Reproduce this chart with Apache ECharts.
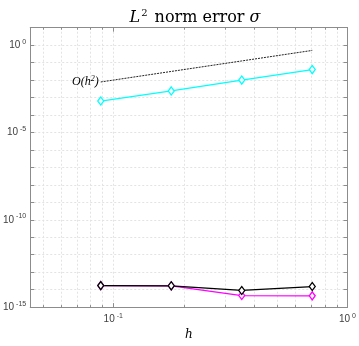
<!DOCTYPE html>
<html>
<head>
<meta charset="utf-8">
<script src="https://cdn.jsdelivr.net/npm/echarts@6/dist/echarts.min.js"></script>
<style>
  html, body { margin: 0; padding: 0; background: #fff; }
  #chart { width: 359px; height: 346px; }
</style>
</head>
<body>
<div id="chart"></div>
<script>
// mesh sizes h
const hValues = [0.0884, 0.1768, 0.3536, 0.7071];
// L2 error of sigma, three runs
const cyanErr = [6.3e-4, 2.4e-3, 1.0e-2, 4.0e-2];
const magentaErr = [1.7e-14, 1.65e-14, 4.6e-15, 4.4e-15];
const blackErr = [1.7e-14, 1.65e-14, 9.0e-15, 1.5e-14];
// reference slope line O(h^2)
const refLine = [0.0078, 0.03125, 0.125, 0.5];
// decades that get a label on the y axis
const yLabelStep = 5;

const axisGray = '#8c8c8c';
const gridGray = '#e3e3e3';
const labelGray = '#404040';

function pairs(xs, ys) {
    return xs.map((x, i) => [x, ys[i]]);
}

function powLabel(step) {
    return function (v) {
        const l = Math.log10(v);
        const e = Math.round(l);
        if (Math.abs(l - e) > 1e-6 || e % step !== 0) return '';
        return '{b|10}{s|' + e + '}';
    };
}

const powRich = {
    b: { fontFamily: 'Liberation Sans', fontSize: 10, color: labelGray },
    s: { fontFamily: 'Liberation Sans', fontSize: 7, color: labelGray, padding: [0, 0, 7, 2] }
};

const markerStyle = (c) => ({
    type: 'line',
    symbol: 'diamond',
    symbolSize: [6, 8],
    lineStyle: { color: c, width: 1.3 },
    itemStyle: { color: '#fff', borderColor: c, borderWidth: 1.3 },
    z: 3
});

const xBase = {
    type: 'log',
    logBase: 10,
    min: 0.0442,
    max: 1,
    axisLine: { show: true, lineStyle: { color: axisGray } },
    axisTick: { inside: true, length: 4, lineStyle: { color: axisGray } },
    minorTick: { show: true, splitNumber: 9, length: 2, lineStyle: { color: axisGray } }
};

const yBase = {
    type: 'log',
    logBase: 10,
    min: 1e-15,
    max: 10,
    interval: 1,
    axisLine: { show: true, lineStyle: { color: axisGray } },
    axisTick: { inside: true, length: 4, lineStyle: { color: axisGray } }
};

const option = {
    animation: false,
    backgroundColor: '#fff',
    title: {
        text: '{i|L}{s|2} norm error {i|σ}',
        left: 190,
        textAlign: 'center',
        top: 3,
        textStyle: {
            rich: {
                i: { fontFamily: 'DejaVu Serif', fontStyle: 'italic', fontSize: 16, color: '#000' },
                s: { fontFamily: 'DejaVu Serif', fontSize: 10, color: '#000', padding: [0, 2, 9, 1] }
            },
            fontFamily: 'DejaVu Serif',
            fontWeight: 'normal',
            fontSize: 16,
            color: '#000'
        }
    },
    grid: {
        left: 29.5,
        right: 8.5,
        top: 27.7,
        bottom: 33.3,
        containLabel: false
    },
    xAxis: [Object.assign({}, xBase, {
        name: 'h',
        nameLocation: 'middle',
        nameGap: 21,
        nameTextStyle: { fontFamily: 'DejaVu Serif', fontStyle: 'italic', fontSize: 12, color: '#000' },
        axisLabel: { formatter: powLabel(1), rich: powRich, margin: 5 },
        splitLine: { show: true, lineStyle: { color: gridGray, type: [2, 2] } },
        minorSplitLine: { show: true, lineStyle: { color: gridGray, type: [2, 2] } }
    }), Object.assign({}, xBase, {
        position: 'top',
        axisLabel: { show: false },
        splitLine: { show: false }
    })],
    yAxis: [Object.assign({}, yBase, {
        axisLabel: { formatter: powLabel(yLabelStep), rich: powRich, margin: 4 },
        splitLine: { show: true, lineStyle: { color: gridGray, type: [2, 2] } }
    }), Object.assign({}, yBase, {
        position: 'right',
        axisLabel: { show: false },
        splitLine: { show: false }
    })],
    series: [
        {
            name: 'O(h^2)',
            type: 'line',
            data: pairs(hValues, refLine),
            symbol: 'none',
            lineStyle: { color: '#222', width: 1, type: [2, 1] },
            z: 2,
            markPoint: {
                symbol: 'circle',
                symbolSize: 0,
                data: [{ coord: [hValues[0], refLine[0]] }],
                label: {
                    show: true,
                    position: 'left',
                    distance: 2,
                    formatter: '{i|O}(h{s|2})',
                    fontFamily: 'Liberation Serif',
                    fontStyle: 'italic',
                    fontSize: 12,
                    color: '#000',
                    rich: {
                        i: { fontFamily: 'Liberation Serif', fontStyle: 'italic', fontSize: 12, color: '#000' },
                        s: { fontFamily: 'Liberation Serif', fontSize: 8, color: '#000', padding: [0, 0, 6, 0] }
                    }
                }
            }
        },
        Object.assign(markerStyle('#00ffff'), { name: 'cyan', data: pairs(hValues, cyanErr) }),
        Object.assign(markerStyle('#ff00ff'), { name: 'magenta', data: pairs(hValues, magentaErr) }),
        Object.assign(markerStyle('#000000'), { name: 'black', data: pairs(hValues, blackErr) })
    ]
};

const chart = echarts.init(document.getElementById('chart'));
chart.setOption(option);
</script>
</body>
</html>
